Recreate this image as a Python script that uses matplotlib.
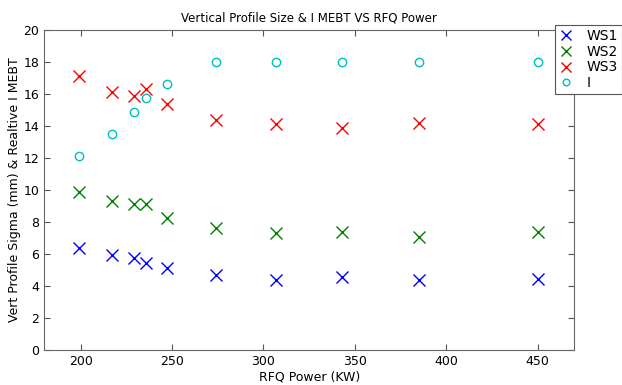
import numpy as np
import matplotlib.pyplot as plt

power = [199, 217, 229, 236, 247, 274, 307, 343, 385, 450]
ws1 = [6.4, 5.95, 5.75, 5.45, 5.1, 4.7, 4.4, 4.55, 4.35, 4.45]
ws2 = [9.9, 9.3, 9.1, 9.15, 8.25, 7.6, 7.3, 7.35, 7.05, 7.35]
ws3 = [17.1, 16.15, 15.9, 16.3, 15.4, 14.35, 14.15, 13.9, 14.2, 14.1]
i_mebt = [12.15, 13.5, 14.85, 15.75, 16.65, 18.0, 18.0, 18.0, 18.0, 18.0]

fig = plt.figure(figsize=(6.22, 3.85), dpi=100)
ax = fig.add_axes([0.071, 0.091, 0.852, 0.831])

ax.plot(power, ws1, 'x', color='#0000ff', markersize=9, markeredgewidth=1.0, label='WS1')
ax.plot(power, ws2, 'x', color='#008000', markersize=9, markeredgewidth=1.0, label='WS2')
ax.plot(power, ws3, 'x', color='#ff0000', markersize=9, markeredgewidth=1.0, label='WS3')
ax.plot(power, i_mebt, 'o', color='#00bfbf', markerfacecolor='none', markersize=6,
        markeredgewidth=1.0, label='I')

ax.set_xlim(180, 470)
ax.set_ylim(0, 20)
ax.set_xticks(np.arange(200, 451, 50))
ax.set_yticks(np.arange(0, 21, 2))
ax.tick_params(direction='in', top=True, right=True, labelsize=9, length=4, color='#555555')
for s in ax.spines.values():
    s.set_color('#666666')

ax.set_title('Vertical Profile Size & I MEBT VS RFQ Power', fontsize=8.5)
ax.set_xlabel('RFQ Power (KW)', fontsize=9, labelpad=2)
ax.set_ylabel('Vert Profile Sigma (mm) & Realtive I MEBT', fontsize=9, labelpad=2)

leg = fig.legend(loc='upper right', bbox_to_anchor=(1.0, 1 - 25 / 385), fontsize=10,
                 fancybox=False, edgecolor='#555555', framealpha=1, borderpad=0.3,
                 labelspacing=0.12, handlelength=1.1, handletextpad=0.9,
                 markerscale=0.8, borderaxespad=0.0)
leg.get_frame().set_linewidth(0.8)

fig.savefig('out.png', dpi=100)
